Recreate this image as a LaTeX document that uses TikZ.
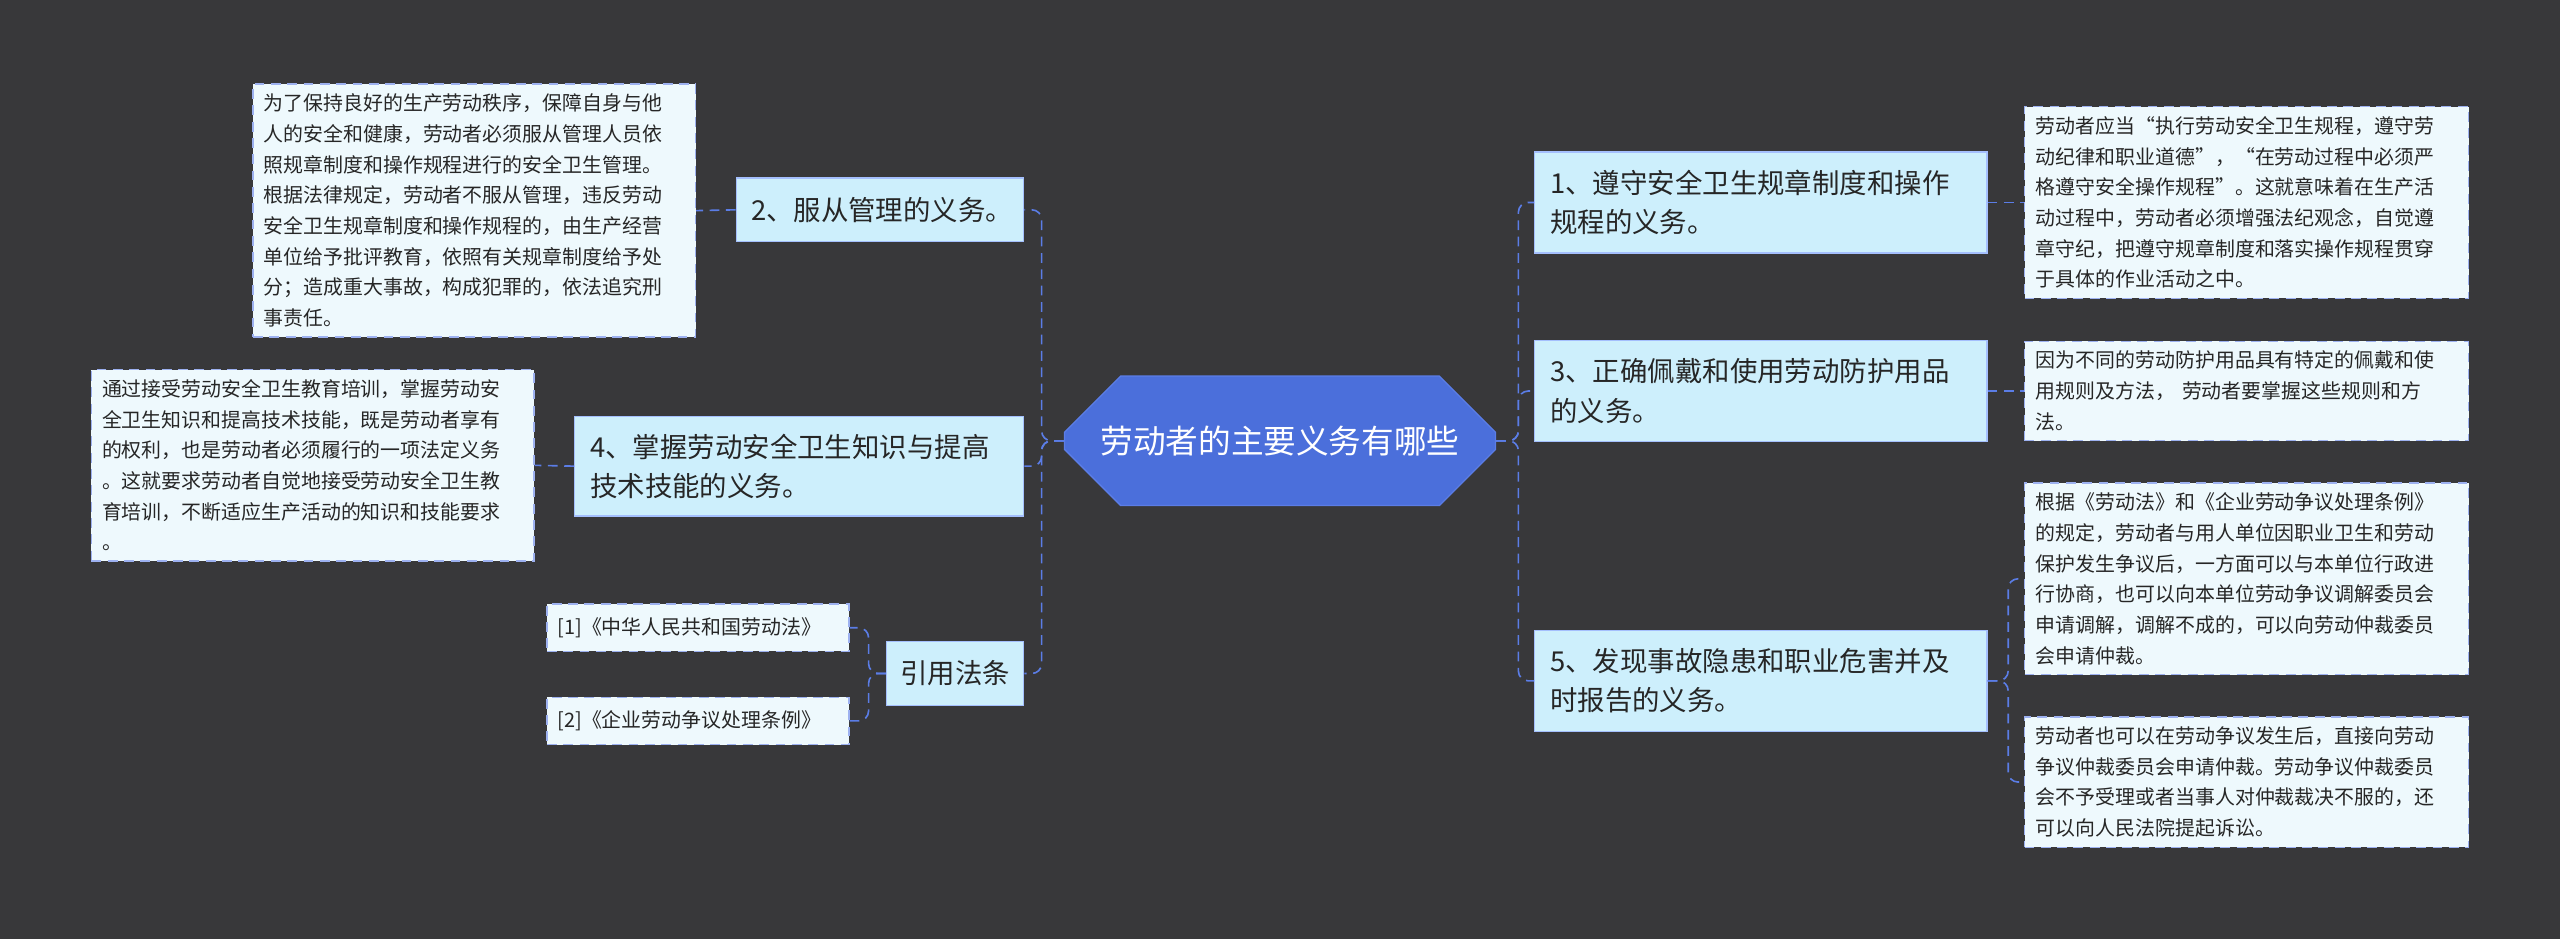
\documentclass[tikz,border=0pt]{standalone}
\usepackage{fontspec}
\setmainfont{Noto Sans CJK SC}
\usetikzlibrary{shapes.misc}
\definecolor{bg}{HTML}{38383A}
\definecolor{cen}{HTML}{4B6FDB}
\definecolor{br}{HTML}{CDEFFC}
\definecolor{lf}{HTML}{EEF9FD}
\definecolor{ln}{HTML}{5B7DE6}
\begin{document}
\begin{tikzpicture}[x=0.5pt,y=-0.5pt,
 branch/.style={fill=br,draw=br!80!blue,inner sep=4pt,align=left,font=\fontsize{8.4pt}{12pt}\selectfont,text=black!85},
 leaf/.style={fill=lf,draw=ln!60,densely dashed,inner sep=3pt,align=left,font=\fontsize{6.1pt}{9.4pt}\selectfont,text=black!85},
 conn/.style={draw=ln,densely dashed,line width=0.5pt,rounded corners=3pt}]
\fill[bg] (0,0) rectangle (1568,575);
\useasboundingbox (0,0) rectangle (1568,575);
\node[chamfered rectangle,chamfered rectangle xsep=4pt,chamfered rectangle ysep=13.2pt,fill=cen,draw=ln,text=white,font=\fontsize{10pt}{12pt}\selectfont,minimum width=132pt,inner sep=2pt] (c) at (784,270) {劳动者的主要义务有哪些};
% right branches
\node[branch,minimum width=138.5pt,minimum height=31pt,text width=129pt] (b1) at (1078.5,124) {1、遵守安全卫生规章制度和操作\\规程的义务。};
\node[branch,minimum width=138.5pt,minimum height=31pt,text width=129pt] (b3) at (1078.5,239.5) {3、正确佩戴和使用劳动防护用品\\的义务。};
\node[branch,minimum width=138.5pt,minimum height=31pt,text width=129pt] (b5) at (1078.5,417) {5、发现事故隐患和职业危害并及\\时报告的义务。};
% right leaves
\node[leaf,minimum width=136pt,minimum height=56pt,text width=129pt] (l1) at (1376,124) {劳动者应当“执行劳动安全卫生规程，遵守劳\\动纪律和职业道德”，“在劳动过程中必须严\\格遵守安全操作规程”。这就意味着在生产活\\动过程中，劳动者必须增强法纪观念，自觉遵\\章守纪，把遵守规章制度和落实操作规程贯穿\\于具体的作业活动之中。};
\node[leaf,minimum width=136pt,minimum height=30.5pt,text width=129pt] (l3) at (1376,239.5) {因为不同的劳动防护用品具有特定的佩戴和使\\用规则及方法， 劳动者要掌握这些规则和方\\法。};
\node[leaf,minimum width=136pt,minimum height=56.5pt,text width=129pt] (l5a) at (1376,354.5) {根据《劳动法》和《企业劳动争议处理条例》\\的规定，劳动者与用人单位因职业卫生和劳动\\保护发生争议后，一方面可以与本单位行政进\\行协商，也可以向本单位劳动争议调解委员会\\申请调解，调解不成的，可以向劳动仲裁委员\\会申请仲裁。};
\node[leaf,minimum width=136pt,minimum height=39pt,text width=129pt] (l5b) at (1376,479) {劳动者也可以在劳动争议发生后，直接向劳动\\争议仲裁委员会申请仲裁。劳动争议仲裁委员\\会不予受理或者当事人对仲裁裁决不服的，还\\可以向人民法院提起诉讼。};
% left branches
\node[branch,minimum width=88pt,minimum height=19.5pt,text width=79pt] (b2) at (539,128.5) {2、服从管理的义务。};
\node[branch,minimum width=137.5pt,minimum height=30.5pt,text width=128pt] (b4) at (489.5,285.5) {4、掌握劳动安全卫生知识与提高\\技术技能的义务。};
\node[branch,minimum width=42pt,minimum height=19.5pt,text width=34pt,align=center] (b6) at (585,412.5) {引用法条};
% left leaves
\node[leaf,minimum width=135.5pt,minimum height=72pt,text width=129pt] (l2) at (290.5,129) {为了保持良好的生产劳动秩序，保障自身与他\\人的安全和健康，劳动者必须服从管理人员依\\照规章制度和操作规程进行的安全卫生管理。\\根据法律规定，劳动者不服从管理，违反劳动\\安全卫生规章制度和操作规程的，由生产经营\\单位给予批评教育，依照有关规章制度给予处\\分；造成重大事故，构成犯罪的，依法追究刑\\事责任。};
\node[leaf,minimum width=135.5pt,minimum height=56pt,text width=129pt] (l4) at (191.5,285) {通过接受劳动安全卫生教育培训，掌握劳动安\\全卫生知识和提高技术技能，既是劳动者享有\\的权利，也是劳动者必须履行的一项法定义务\\。这就要求劳动者自觉地接受劳动安全卫生教\\育培训，不断适应生产活动的知识和技能要求\\。};
\node[leaf,minimum width=92.5pt,minimum height=14.5pt,text width=86pt] (r1) at (427.5,384.5) {[1]《中华人民共和国劳动法》};
\node[leaf,minimum width=92.5pt,minimum height=14.5pt,text width=86pt] (r2) at (427.5,441.5) {[2]《企业劳动争议处理条例》};
% connectors
\coordinate (jr) at (930,270);
\coordinate (jl) at (638,270);
\foreach \b in {b1,b3,b5} \draw[conn] (c.east) -- (jr) |- (\b.west);
\foreach \b in {b2,b4,b6} \draw[conn] (c.west) -- (jl) |- (\b.east);
\coordinate (j1) at (1230,124);
\draw[conn] (b1.east) -- (l1.west);
\draw[conn] (b3.east) -- (l3.west);
\coordinate (j5) at (1230,417);
\draw[conn] (b5.east) -- (j5) |- (l5a.west);
\draw[conn] (b5.east) -- (j5) |- (l5b.west);
\draw[conn] (b2.west) -- (l2.east);
\draw[conn] (b4.west) -- (l4.east);
\coordinate (j6) at (532,412.5);
\draw[conn] (b6.west) -- (j6) |- (r1.east);
\draw[conn] (b6.west) -- (j6) |- (r2.east);
\end{tikzpicture}
\end{document}
